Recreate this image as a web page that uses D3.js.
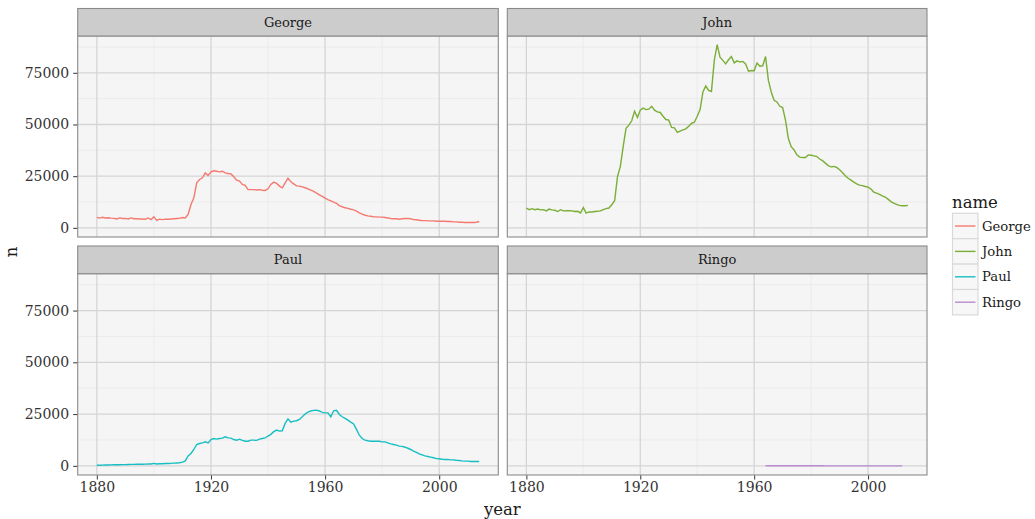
<!DOCTYPE html>
<html>
<head>
<meta charset="utf-8">
<script src="https://cdn.jsdelivr.net/npm/d3@7"></script>
<style>
  body { margin: 0; background: #fff; }
  svg text { font-family: "DejaVu Serif", serif; }
</style>
</head>
<body>
<svg id="chart" width="1035" height="519"></svg>
<script>
// facet names and colours
const names = [ "George", "John", "Paul", "Ringo" ];
const colors = [ "#F47A70", "#7AAE36", "#17BEC3", "#B88ACF" ];

const firstYear = 1880;
const lastYear = 2014;

// counts per year, 1880..2014
const george = [
  5100, 4700, 5100, 4800, 4900, 4700, 4600, 4300, 4800, 4500,
  4600, 4300, 4800, 4400, 4400, 4300, 4300, 4200, 4800, 4000,
  5400, 3600, 4200, 4000, 4200, 4200, 4300, 4400, 4500, 4600,
  5000, 4800, 6500, 11300, 14500, 21800, 23400, 24200, 26600, 25300,
  27100, 27600, 27400, 27100, 27400, 26600, 26300, 26100, 24700, 23100,
  22600, 21000, 20600, 18500, 18500, 18500, 18300, 18500, 18200, 18100,
  18900, 21000, 22100, 21500, 20200, 19400, 21800, 24000, 22300, 21300,
  20300, 20200, 19800, 19400, 18900, 18200, 17600, 16800, 16000, 15200,
  14400, 13700, 13100, 12400, 11800, 10800, 10200, 9700, 9400, 9000,
  8700, 8100, 7300, 6600, 6100, 5800, 5600, 5300, 5300, 5200,
  5200, 5000, 4800, 4500, 4400, 4400, 4200, 4400, 4500, 4500,
  4400, 4000, 3900, 3700, 3500, 3500, 3400, 3400, 3400, 3200,
  3200, 3200, 3200, 3100, 3100, 2900, 2900, 2700, 2700, 2600,
  2600, 2600, 2600, 2700, 3100,
];

const john = [
  9500, 8800, 9300, 8800, 9100, 8700, 8800, 8200, 9100, 8700,
  8500, 7900, 8800, 8200, 8300, 8300, 8200, 7900, 8000, 7200,
  9800, 7100, 7700, 7700, 7900, 8000, 8200, 8800, 9300, 9600,
  11200, 13100, 24800, 29700, 39300, 48100, 49700, 51800, 56400, 53400,
  56900, 57900, 57200, 57400, 58800, 56900, 56100, 55800, 54000, 52400,
  52100, 48600, 48400, 46200, 46800, 47400, 47900, 49200, 50500, 51100,
  54000, 57200, 65700, 68600, 66500, 66000, 81000, 88600, 82600, 81000,
  79300, 81300, 82900, 79800, 80800, 80200, 80500, 79300, 75800, 76100,
  76000, 79700, 78200, 78400, 82900, 71300, 65700, 61700, 60900, 58800,
  58200, 52100, 43300, 39300, 37700, 35300, 34200, 34000, 34000, 35300,
  35100, 34800, 34500, 33300, 32500, 31300, 30100, 29500, 29700, 29200,
  28100, 26800, 25200, 24000, 23100, 22100, 21300, 20700, 20400, 20000,
  19700, 18800, 17300, 16800, 16200, 15500, 14900, 13900, 12700, 12000,
  11400, 10900, 10700, 10700, 10900,
];

const paul = [
  300, 300, 350, 400, 400, 450, 500, 500, 550, 600,
  600, 650, 700, 700, 750, 800, 800, 850, 900, 900,
  1200, 900, 1000, 1000, 1100, 1100, 1200, 1300, 1400, 1500,
  1800, 2400, 4800, 6000, 7900, 10300, 10800, 11100, 11600, 11100,
  12700, 13200, 12900, 13200, 13400, 14000, 13500, 13400, 12700, 12400,
  12900, 12300, 11900, 11900, 12400, 12400, 12300, 12900, 13200, 13500,
  14400, 15200, 16500, 17300, 16800, 16900, 20500, 22700, 21100, 21600,
  21800, 22400, 23700, 25000, 26000, 26500, 26800, 26900, 26500, 25800,
  25600, 25600, 23700, 26600, 26800, 24800, 23700, 22900, 22100, 21100,
  20200, 17600, 14800, 13200, 12400, 12100, 11900, 11900, 11900, 11900,
  11600, 11600, 11100, 10600, 10300, 10000, 9500, 9400, 9000, 8500,
  7900, 7100, 6500, 5800, 5300, 4800, 4500, 4200, 3900, 3500,
  3400, 3200, 3100, 3100, 2900, 2900, 2700, 2600, 2400, 2300,
  2300, 2100, 2100, 2100, 2100,
];

// Ringo only shows up 1964..2012
const ringoStart = 1964;
const ringo = [
  60, 45, 40, 35, 30, 28, 25, 22, 20, 18,
  18, 16, 15, 15, 14, 14, 13, 13, 12, 12,
  12, 11, 11, 11, 10, 10, 10, 10, 10, 10,
  10, 10, 10, 10, 10, 10, 10, 10, 10, 10,
  10, 10, 10, 10, 10, 10, 10, 10, 10,
];

const yTicks = [ 0, 25000, 50000, 75000 ];
const yMinor = [ 12500, 37500, 62500, 87500 ];
const xTicks = [ 1880, 1920, 1960, 2000 ];
const xMinor = [ 1900, 1940, 1980 ];

const years = d3.range( firstYear, lastYear + 1 );
const series = [
  years.map( ( y, i ) => ( { year: y, n: george[i] } ) ),
  years.map( ( y, i ) => ( { year: y, n: john[i] } ) ),
  years.map( ( y, i ) => ( { year: y, n: paul[i] } ) ),
  ringo.map( ( v, i ) => ( { year: ringoStart + i, n: v } ) ),
];

const svg = d3.select( "#chart" );

const COLS = [ [ 77.7, 498.3 ], [ 507.3, 927 ] ];
const ROWS = [ { strip: 8.5, top: 36, bottom: 237 }, { strip: 246, top: 273.7, bottom: 475 } ];

const xScales = COLS.map( c => d3.scaleLinear().domain( [ 1873.3, 2020.7 ] ).range( c ) );
const yScales = ROWS.map( r => d3.scaleLinear().domain( [ -4420, 92800 ] ).range( [ r.bottom, r.top ] ) );

names.forEach( ( name, i ) => {
  const col = i % 2;
  const row = Math.floor( i / 2 );
  const x = xScales[col];
  const y = yScales[row];
  const r = ROWS[row];
  const [ x0, x1 ] = COLS[col];

  const g = svg.append( "g" );

  g.append( "rect" )
    .attr( "x", x0 ).attr( "y", r.top )
    .attr( "width", x1 - x0 ).attr( "height", r.bottom - r.top )
    .attr( "fill", "#F4F5F4" );

  // minor grid
  g.selectAll( ".ymin" ).data( yMinor ).enter().append( "line" )
    .attr( "x1", x0 ).attr( "x2", x1 )
    .attr( "y1", d => y( d ) ).attr( "y2", d => y( d ) )
    .attr( "stroke", "#E8E9E8" ).attr( "stroke-width", 0.8 );
  g.selectAll( ".xmin" ).data( xMinor ).enter().append( "line" )
    .attr( "y1", r.top ).attr( "y2", r.bottom )
    .attr( "x1", d => x( d ) ).attr( "x2", d => x( d ) )
    .attr( "stroke", "#E8E9E8" ).attr( "stroke-width", 0.8 );

  // major grid
  g.selectAll( ".ymaj" ).data( yTicks ).enter().append( "line" )
    .attr( "x1", x0 ).attr( "x2", x1 )
    .attr( "y1", d => y( d ) ).attr( "y2", d => y( d ) )
    .attr( "stroke", "#D5D5D5" ).attr( "stroke-width", 1.3 );
  g.selectAll( ".xmaj" ).data( xTicks ).enter().append( "line" )
    .attr( "y1", r.top ).attr( "y2", r.bottom )
    .attr( "x1", d => x( d ) ).attr( "x2", d => x( d ) )
    .attr( "stroke", "#D5D5D5" ).attr( "stroke-width", 1.3 );

  const line = d3.line().x( d => x( d.year ) ).y( d => y( d.n ) );
  g.append( "path" )
    .datum( series[i] )
    .attr( "d", line )
    .attr( "fill", "none" )
    .attr( "stroke", colors[i] )
    .attr( "stroke-width", 1.4 );

  // panel border
  g.append( "rect" )
    .attr( "x", x0 ).attr( "y", r.top )
    .attr( "width", x1 - x0 ).attr( "height", r.bottom - r.top )
    .attr( "fill", "none" ).attr( "stroke", "#8A8A8A" ).attr( "stroke-width", 1.1 );

  // strip
  g.append( "rect" )
    .attr( "x", x0 ).attr( "y", r.strip )
    .attr( "width", x1 - x0 ).attr( "height", r.top - r.strip )
    .attr( "fill", "#CCCCCC" ).attr( "stroke", "#8A8A8A" ).attr( "stroke-width", 1.1 );
  g.append( "text" )
    .attr( "x", ( x0 + x1 ) / 2 ).attr( "y", ( r.strip + r.top ) / 2 + 4.5 )
    .attr( "text-anchor", "middle" )
    .attr( "font-size", 13 ).attr( "fill", "#1A1A1A" )
    .text( name );

  if ( col === 0 ) {
    const yAxis = d3.axisLeft( y ).tickValues( yTicks ).tickSize( 4 ).tickPadding( 4 ).tickFormat( d3.format( "d" ) );
    const ga = svg.append( "g" ).attr( "transform", `translate(${x0 - 0.5},0)` ).call( yAxis );
    ga.select( ".domain" ).remove();
    ga.selectAll( "line" ).attr( "stroke", "#333" );
    ga.selectAll( "text" ).attr( "font-size", 14 ).attr( "fill", "#333" ).attr( "font-family", "DejaVu Serif" );
  }
  if ( row === 1 ) {
    const xAxis = d3.axisBottom( x ).tickValues( xTicks ).tickSize( 4 ).tickPadding( 3 ).tickFormat( d3.format( "d" ) );
    const ga = svg.append( "g" ).attr( "transform", `translate(0,${r.bottom + 0.5})` ).call( xAxis );
    ga.select( ".domain" ).remove();
    ga.selectAll( "line" ).attr( "stroke", "#333" );
    ga.selectAll( "text" ).attr( "font-size", 14 ).attr( "fill", "#333" ).attr( "font-family", "DejaVu Serif" );
  }
} );

// axis titles
svg.append( "text" )
  .attr( "x", ( COLS[0][0] + COLS[1][1] ) / 2 ).attr( "y", 515 )
  .attr( "text-anchor", "middle" ).attr( "font-size", 16.5 ).attr( "fill", "#1A1A1A" )
  .text( "year" );
svg.append( "text" )
  .attr( "transform", "translate(17,252) rotate(-90)" )
  .attr( "text-anchor", "middle" ).attr( "font-size", 16.5 ).attr( "fill", "#1A1A1A" )
  .text( "n" );

// legend
const lg = svg.append( "g" ).attr( "transform", "translate(952,0)" );
lg.append( "text" ).attr( "x", 0 ).attr( "y", 208 )
  .attr( "font-size", 16.5 ).attr( "fill", "#1A1A1A" ).text( "name" );
const keyH = 25.4;
names.forEach( ( name, i ) => {
  const ky = 213.3 + i * keyH;
  lg.append( "rect" )
    .attr( "x", 0.5 ).attr( "y", ky )
    .attr( "width", 25.5 ).attr( "height", keyH )
    .attr( "fill", "#F7F7F7" ).attr( "stroke", "#D9D9D9" ).attr( "stroke-width", 1.2 );
  lg.append( "line" )
    .attr( "x1", 3 ).attr( "x2", 23.5 )
    .attr( "y1", ky + keyH / 2 ).attr( "y2", ky + keyH / 2 )
    .attr( "stroke", colors[i] ).attr( "stroke-width", 1.4 );
  lg.append( "text" )
    .attr( "x", 30 ).attr( "y", ky + keyH / 2 + 4.5 )
    .attr( "font-size", 13.2 ).attr( "fill", "#1A1A1A" )
    .text( name );
} );
</script>
</body>
</html>
